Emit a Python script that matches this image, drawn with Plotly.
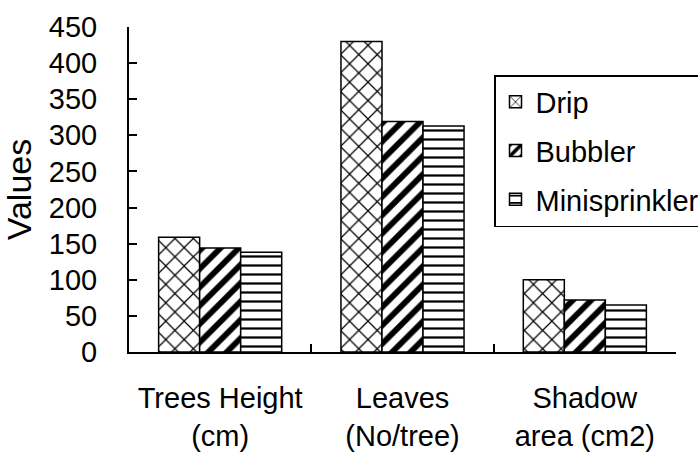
import plotly.graph_objects as go

categories = ["Trees Height<br>(cm)", "Leaves<br>(No/tree)", "Shadow<br>area (cm2)"]
drip = [159, 430, 100]
bubbler = [144, 319, 72]
minisprinkler = [138, 313, 65]
y_ticks = [0, 50, 100, 150, 200, 250, 300, 350, 400, 450]

FONT = "Liberation Sans, Arial, sans-serif"

fig = go.Figure()
series = [
    ("Drip", drip, dict(shape="x", size=13, solidity=0.18)),
    ("Bubbler", bubbler, dict(shape="/", size=13, solidity=0.45)),
    ("Minisprinkler", minisprinkler, dict(shape="-", size=9, solidity=0.25)),
]
for name, vals, pat in series:
    fig.add_trace(go.Bar(
        name=name, x=categories, y=vals, legendgroup=name,
        marker=dict(color="white", line=dict(color="black", width=1.5),
                    pattern=dict(fgcolor="black", bgcolor="white", fillmode="replace", **pat)),
    ))

L, R, T, B = 129, 22, 27, 104
PW = 698 - L - R
PH = 456 - T - B

fig.update_layout(
    width=698, height=456,
    margin=dict(l=L, r=R, t=T, b=B, autoexpand=False),
    paper_bgcolor="white", plot_bgcolor="white",
    font=dict(family=FONT, size=29, color="black"),
    barmode="group", bargap=0.325, bargroupgap=0,
    legend=dict(x=(494 - L) / PW, xref="paper", xanchor="left",
                y=1 - (75 - T) / PH, yanchor="top",
                bordercolor="black", borderwidth=1.5, bgcolor="white",
                tracegroupgap=8, font=dict(size=29), traceorder="grouped"),
    showlegend=True,
)
fig.update_xaxes(
    showline=True, linecolor="black", linewidth=2, automargin=False,
    ticks="inside", tickson="boundaries", ticklen=8, tickcolor="black", tickwidth=1.5,
    ticklabelstandoff=19, range=[-0.5, 2.5],
)
fig.update_yaxes(
    range=[0, 450], tickvals=y_ticks, showline=True, linecolor="black", linewidth=2,
    ticks="inside", ticklen=8, tickcolor="black", tickwidth=1.5, showgrid=False,
    zeroline=False, ticklabelstandoff=24, automargin=False,
    title=dict(text="Values", standoff=7, font=dict(size=34)),
)

fig.write_html("out.html", config={"displayModeBar": False},
               post_script="document.body.style.margin='0';document.body.style.padding='0';")
